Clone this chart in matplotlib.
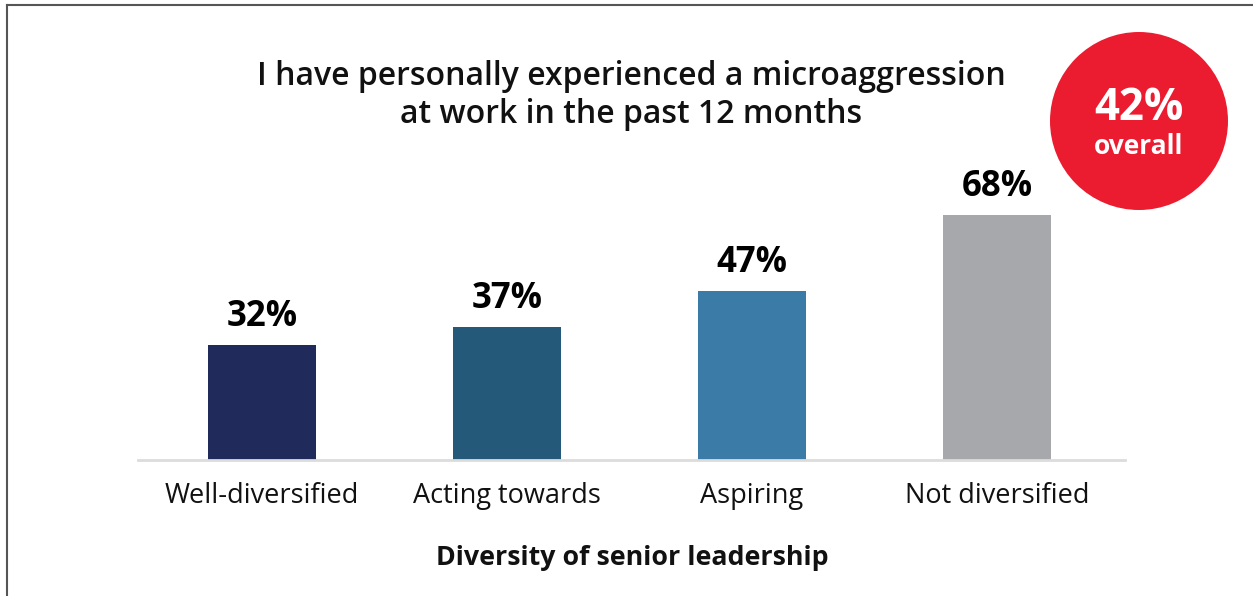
import matplotlib
matplotlib.use("Agg")
import matplotlib.pyplot as plt
from matplotlib.patches import Ellipse
from matplotlib.lines import Line2D

categories = ["Well-diversified", "Acting towards", "Aspiring", "Not diversified"]
values = [32, 37, 47, 68]
value_labels = ["32%", "37%", "47%", "68%"]
bar_colors = ["#202A5B", "#25597A", "#3A7BA8", "#A7A8AB"]
title = "I have personally experienced a microaggression\nat work in the past 12 months"
xlabel = "Diversity of senior leadership"
overall_value = "42%"
overall_text = "overall"

FONT = ["Open Sans", "DejaVu Sans"]
plt.rcParams["font.family"] = FONT

W, H = 1253, 596
fig = plt.figure(figsize=(W / 100, H / 100), dpi=100)
fig.patch.set_facecolor("white")

ax_left, ax_right, base_y = 138, 1125, 460
ax = fig.add_axes([ax_left / W, 1 - base_y / H, (ax_right - ax_left) / W, base_y / H])
px_per_unit = 3.6
ax.set_ylim(0, base_y / px_per_unit)
ax.set_xlim(-0.506, 3.522)

x = list(range(len(categories)))
ax.bar(x, values, width=0.44, color=bar_colors, zorder=2)
for xi, v, lab in zip(x, values, value_labels):
    ax.annotate(lab, (xi, v), xytext=(0, 7), textcoords="offset points",
                ha="center", va="bottom", fontsize=25, fontweight="bold", color="black")

for s in ["top", "right", "left"]:
    ax.spines[s].set_visible(False)
ax.spines["bottom"].set_color("#DCDCDC")
ax.spines["bottom"].set_linewidth(2)
ax.set_yticks([])
ax.set_xticks(x)
ax.set_xticklabels(categories, fontsize=19.5, color="#111111")
ax.tick_params(axis="x", length=0, pad=16)
ax.patch.set_alpha(0)

fig.text(631 / W, 1 - 95.5 / H, title, ha="center", va="center", fontsize=23,
         fontweight="semibold", linespacing=1.2, color="#111111")

fig.text(632 / W, 1 - 558 / H, xlabel, ha="center", va="center", fontsize=19.3,
         fontweight="bold", color="#111111")

cx, cy, r = 1139, 121, 89
circ = Ellipse((cx / W, 1 - cy / H), 2 * r / W, 2 * r / H, transform=fig.transFigure,
               facecolor="#EC1C30", edgecolor="none")
fig.add_artist(circ)
fig.text(cx / W, 1 - 108.5 / H, overall_value, ha="center", va="center", fontsize=31.5,
         fontweight="bold", color="white")
fig.text(cx / W, 1 - 147 / H, overall_text, ha="center", va="center", fontsize=19,
         fontweight="bold", color="white")

fig.add_artist(Line2D([7 / W, 1], [1 - 5 / H, 1 - 5 / H], transform=fig.transFigure,
                      color="#555555", linewidth=1.5))
fig.add_artist(Line2D([7 / W, 7 / W], [1 - 5 / H, 0], transform=fig.transFigure,
                      color="#555555", linewidth=1.5))

fig.savefig("out.png", dpi=100, facecolor="white")
